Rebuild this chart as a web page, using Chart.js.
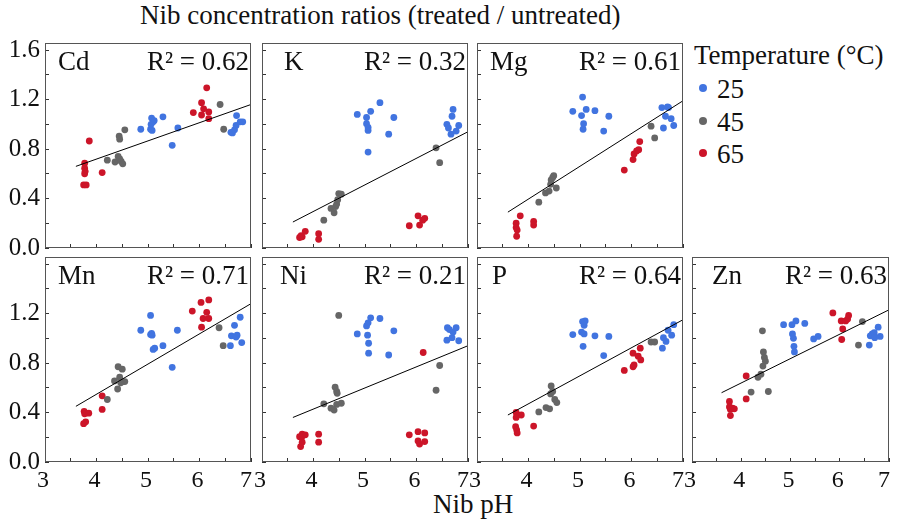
<!DOCTYPE html>
<html>
<head>
<meta charset="utf-8">
<script src="https://cdn.jsdelivr.net/npm/chart.js@4.4.1/dist/chart.umd.min.js"></script>
<style>
body{margin:0;background:#fff}
#wrap{position:relative;width:906px;height:522px;font-family:'Liberation Serif','Times New Roman',serif;color:#111}
#wrap canvas{position:absolute;left:0;top:0}
.t{position:absolute;white-space:nowrap;font-size:27px;line-height:27px}
.dot{position:absolute;width:8px;height:8px;border-radius:50%}
</style>
</head>
<body>
<div id="wrap">
  <div class="t" style="left:140px;top:2px">Nib concentration ratios (treated / untreated)</div>
  <div class="t" style="left:433px;top:491px">Nib pH</div>
  <div class="t" style="left:694px;top:42px">Temperature (°C)</div>
  <div id="legend"></div>
</div>
<script>
// [pH, ratio] per element and temperature
const cd25=[[4.86,0.96],[5.05,0.96],[5.07,1.05],[5.08,0.95],[5.10,1.02],[5.12,1.03],[5.06,1.00],[5.29,1.06],[5.47,0.83],[5.58,0.97],[6.61,0.935],[6.64,0.93],[6.68,0.955],[6.71,0.99],[6.72,1.07],[6.79,1.02],[6.84,1.02]]
const cd45=[[4.21,0.71],[4.36,0.695],[4.42,0.74],[4.45,0.72],[4.48,0.70],[4.51,0.68],[4.44,0.905],[4.45,0.88],[4.55,0.955],[6.40,1.16],[6.47,0.96]]
const cd65=[[3.77,0.685],[3.77,0.645],[3.78,0.62],[3.77,0.60],[3.75,0.51],[3.80,0.51],[3.86,0.865],[4.11,0.61],[5.88,1.095],[6.04,1.175],[6.08,1.125],[6.04,1.075],[6.14,1.295],[6.18,1.10],[6.18,1.045]]

const k25=[[4.85,1.08],[5.03,1.055],[5.03,1.005],[5.06,0.975],[5.06,0.95],[5.11,1.105],[5.06,0.775],[5.29,1.175],[5.46,0.92],[5.56,1.055],[6.59,1.0],[6.62,0.97],[6.67,0.92],[6.71,1.12],[6.69,1.065],[6.77,0.945],[6.82,0.99]]
const k45=[[4.20,0.225],[4.34,0.32],[4.40,0.285],[4.43,0.335],[4.45,0.355],[4.47,0.39],[4.49,0.44],[4.54,0.435],[6.38,0.81],[6.45,0.69]]
const k65=[[3.73,0.085],[3.78,0.09],[3.76,0.10],[3.84,0.135],[4.10,0.115],[4.10,0.07],[5.86,0.18],[6.03,0.26],[6.06,0.185],[6.12,0.225],[6.16,0.24]]

const mg25=[[4.86,1.105],[5.05,1.22],[5.03,1.07],[5.07,1.005],[5.06,0.96],[5.12,1.12],[5.29,1.11],[5.46,0.945],[5.56,1.065],[6.59,1.135],[6.62,0.97],[6.66,1.065],[6.70,1.14],[6.72,1.135],[6.77,1.045],[6.82,0.99]]
const mg45=[[4.20,0.37],[4.33,0.445],[4.40,0.46],[4.43,0.515],[4.44,0.55],[4.47,0.57],[4.49,0.585],[4.54,0.485],[6.38,0.985],[6.45,0.89]]
const mg65=[[3.76,0.20],[3.76,0.165],[3.78,0.145],[3.77,0.095],[3.84,0.26],[4.10,0.215],[4.10,0.185],[5.86,0.63],[6.03,0.715],[6.05,0.76],[6.10,0.785],[6.14,0.795],[6.16,0.86]]

const mn25=[[4.86,1.065],[5.05,1.185],[5.05,1.03],[5.08,1.025],[5.07,1.04],[5.10,0.91],[5.13,0.92],[5.29,0.94],[5.47,0.765],[5.57,1.065],[6.60,0.94],[6.62,1.02],[6.68,1.105],[6.71,1.01],[6.73,1.025],[6.79,1.17],[6.82,0.965]]
const mn45=[[4.21,0.505],[4.35,0.655],[4.41,0.59],[4.42,0.77],[4.45,0.685],[4.50,0.75],[4.51,0.65],[4.55,0.65],[4.47,0.64],[6.38,1.085],[6.46,0.94]]
const mn65=[[3.75,0.31],[3.79,0.325],[3.76,0.41],[3.77,0.39],[3.85,0.395],[4.11,0.535],[4.11,0.425],[5.86,1.22],[6.03,1.29],[6.04,1.09],[6.07,1.16],[6.14,1.21],[6.18,1.31],[6.18,1.16]]

const ni25=[[4.85,1.035],[5.03,1.10],[5.06,1.125],[5.11,1.165],[5.05,1.025],[5.07,0.96],[5.07,0.88],[5.29,1.16],[5.46,0.865],[5.56,1.06],[6.59,0.985],[6.60,1.085],[6.64,1.07],[6.69,1.005],[6.71,1.05],[6.77,1.085],[6.82,0.98]]
const ni45=[[4.49,1.185],[4.20,0.47],[4.34,0.435],[4.40,0.42],[4.42,0.605],[4.45,0.57],[4.46,0.555],[4.45,0.465],[4.54,0.475],[6.38,0.58],[6.45,0.78]]
const ni65=[[3.75,0.125],[3.77,0.20],[3.78,0.225],[3.78,0.16],[3.84,0.22],[3.73,0.205],[4.10,0.225],[4.10,0.16],[5.86,0.22],[6.03,0.245],[6.03,0.17],[6.06,0.145],[6.13,0.885],[6.16,0.235],[6.16,0.165]]

const p25=[[4.86,1.03],[5.03,1.05],[5.05,1.135],[5.08,1.105],[5.10,1.14],[5.08,1.035],[5.06,0.935],[5.29,1.02],[5.46,0.86],[5.56,1.015],[6.60,0.92],[6.62,1.005],[6.67,0.975],[6.71,1.065],[6.78,1.025],[6.82,1.11]]
const p45=[[4.20,0.405],[4.34,0.44],[4.41,0.43],[4.44,0.615],[4.43,0.55],[4.47,0.57],[4.51,0.505],[4.55,0.48],[6.38,0.97],[6.45,0.97]]
const p65=[[3.76,0.40],[3.86,0.38],[3.76,0.36],[3.75,0.285],[3.77,0.26],[3.78,0.235],[4.10,0.29],[5.86,0.74],[6.03,0.77],[6.05,0.785],[6.03,0.88],[6.13,0.855],[6.18,0.825],[6.17,0.92]]

const zn25=[[4.86,1.11],[5.03,1.11],[5.11,1.14],[5.04,1.035],[5.06,1.0],[5.07,0.935],[5.08,0.89],[5.29,1.12],[5.47,0.995],[5.56,1.015],[6.60,0.945],[6.62,1.02],[6.66,1.035],[6.70,1.045],[6.71,1.005],[6.78,1.09],[6.82,1.015]]
const zn45=[[4.20,0.565],[4.34,0.685],[4.40,0.71],[4.43,1.06],[4.44,0.775],[4.45,0.89],[4.47,0.845],[4.49,0.815],[4.55,0.57],[6.38,0.945],[6.46,1.135]]
const zn65=[[3.76,0.49],[3.76,0.445],[3.78,0.425],[3.78,0.375],[3.82,0.435],[3.86,0.43],[4.10,0.695],[4.10,0.51],[5.86,1.205],[6.03,1.14],[6.06,1.075],[6.04,0.99],[6.12,1.14],[6.16,1.155],[6.18,1.185]]

// fitted line: ratio at pH fitX[0] and fitX[1]
const fitX=[3.6,7]
const cdFit=[0.66,1.16], kFit=[0.21,0.94], mgFit=[0.29,1.19], mnFit=[0.45,1.28]
const niFit=[0.36,0.94], pFit=[0.38,1.15], znFit=[0.56,1.23]

const elements=['Cd','K','Mg','Mn','Ni','P','Zn']
const r2=['0.62','0.32','0.61','0.71','0.21','0.64','0.63']
const tempLabels=['25','45','65']
const tempColors=['#4174e0','#666666','#cc1529']
const xTicks=[3,3.5,4,4.5,5,5.5,6,6.5,7]
const yTicks=[0,0.2,0.4,0.6,0.8,1.0,1.2,1.4,1.6]
const yLabelsTop=['0.0','0.4','0.8','1.2','1.6']
const yLabelsBottom=['0.0','0.4','0.8','1.2']

const series=[[cd25,cd45,cd65],[k25,k45,k65],[mg25,mg45,mg65],[mn25,mn45,mn65],[ni25,ni45,ni65],[p25,p45,p65],[zn25,zn45,zn65]]
const fits=[cdFit,kFit,mgFit,mnFit,niFit,pFit,znFit]

// panel boxes [left, top, right, bottom], label left offset
const cols=[[45,251],[262,468],[477,683],[692,898]]
const rows=[[43,248],[257,462]]
const slots=[[0,0],[0,1],[0,2],[1,0],[1,1],[1,2],[1,3]]
const nameOffset=[13,22,13,13,18,15,20]

const W=906,H=522
const AXW=42, AXH=40
const SERIF="'Liberation Serif', 'Times New Roman', serif"
Chart.defaults.font.family=SERIF

const frame={
    id:'frame',
    afterDraw(chart,args,opts){
        const a=chart.chartArea
        const ctx=chart.ctx
        ctx.save()
        ctx.strokeStyle='#555'
        ctx.lineWidth=1
        ctx.strokeRect(a.left+0.5,a.top+0.5,a.right-a.left-1,a.bottom-a.top-1)
        ctx.fillStyle='#111'
        ctx.font='27px '+SERIF
        ctx.textBaseline='alphabetic'
        ctx.textAlign='left'
        ctx.fillText(opts.name,a.left+opts.off,a.top+27)
        ctx.textAlign='right'
        ctx.fillText('R² = '+opts.r2,a.right-2,a.top+27)
        ctx.restore()
    }
}

function toPoints(arr){
    return arr.map(p=>({x:p[0],y:p[1]}))
}

// last label sits a little inside its panel, as in the figure
function xLabel(v){
    if(!Number.isInteger(v)) return ''
    return v===7?'7 ':String(v)
}

function makePanel(i){
    const [r,c]=slots[i]
    const box=[cols[c][0],rows[r][0],cols[c][1],rows[r][1]]
    const yLabels=r===0?yLabelsTop:yLabelsBottom
    const canvas=document.createElement('canvas')
    canvas.width=W
    canvas.height=H
    document.getElementById('wrap').appendChild(canvas)

    const datasets=[{
        data:fitX.map((x,j)=>({x,y:fits[i][j]})),
        showLine:true,
        borderColor:'#000',
        borderWidth:1,
        pointRadius:0
    }]
    series[i].forEach((s,t)=>{
        datasets.push({
            data:toPoints(s),
            backgroundColor:tempColors[t],
            borderWidth:0,
            pointRadius:3.4
        })
    })

    new Chart(canvas,{
        type:'scatter',
        data:{datasets},
        options:{
            responsive:false,
            animation:false,
            events:[],
            layout:{padding:{left:box[0]-AXW,top:box[1],right:W-box[2],bottom:H-box[3]-AXH}},
            plugins:{
                legend:{display:false},
                tooltip:{enabled:false},
                frame:{name:elements[i],r2:r2[i],off:nameOffset[i]}
            },
            scales:{
                x:{
                    type:'linear',min:3,max:7,
                    afterFit:s=>{s.height=AXH},
                    afterBuildTicks:s=>{s.ticks=xTicks.map(v=>({value:v}))},
                    border:{display:false},
                    grid:{drawOnChartArea:false,tickLength:-4,color:'#333'},
                    ticks:{
                        display:r===1,autoSkip:false,maxRotation:0,padding:8,labelOffset:-2,
                        color:'#111',font:{family:SERIF,size:24},
                        callback:xLabel
                    }
                },
                y:{
                    type:'linear',min:0,max:1.657,
                    afterFit:s=>{s.width=AXW},
                    afterBuildTicks:s=>{s.ticks=yTicks.map(v=>({value:v}))},
                    border:{display:false},
                    grid:{drawOnChartArea:false,tickLength:-4,color:'#333'},
                    ticks:{
                        display:c===0,autoSkip:false,padding:9,
                        color:'#111',font:{family:SERIF,size:25},
                        callback:v=>yLabels.includes(v.toFixed(1))?v.toFixed(1):''
                    }
                }
            }
        },
        plugins:[frame]
    })
}

function buildLegend(){
    const leg=document.getElementById('legend')
    tempLabels.forEach((lab,i)=>{
        const y=84+i*32.5
        const d=document.createElement('div')
        d.className='dot'
        d.style.left='699px'
        d.style.top=y+'px'
        d.style.background=tempColors[i]
        leg.appendChild(d)
        const t=document.createElement('div')
        t.className='t'
        t.style.left='717px'
        t.style.top=(y-8)+'px'
        t.textContent=lab
        leg.appendChild(t)
    })
}

elements.forEach((e,i)=>makePanel(i))
buildLegend()
</script>
</body>
</html>
